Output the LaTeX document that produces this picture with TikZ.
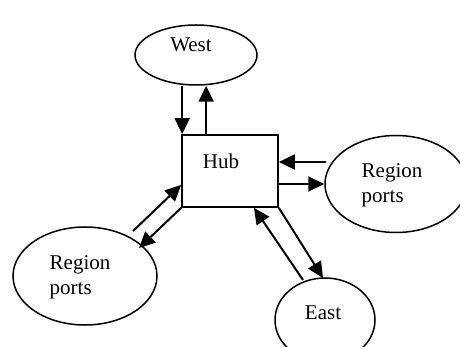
\documentclass[tikz,border=0pt]{standalone}
\usepackage{fontspec}
\setmainfont{Liberation Serif}
\usetikzlibrary{shapes.geometric,arrows.meta,calc}
\begin{document}
\begin{tikzpicture}[x=1pt,y=-1pt,
  oval/.style={draw,ellipse,line width=1.5pt,inner sep=0pt},
  box/.style={draw,rectangle,line width=1.7pt,inner sep=0pt},
  lbl/.style={font=\fontsize{21}{25}\selectfont,align=left,inner sep=0pt},
  conn/.style={line width=2pt,-{Triangle[length=16pt,width=15pt]}}]
\useasboundingbox[fill=white] (0,0) rectangle (460,347);
% nodes
\node[box,minimum width=96pt,minimum height=72pt] (hub) at (230,171) {};
\node[lbl] (hubt) at (221,161) {Hub};
\node[oval,minimum width=122pt,minimum height=60pt] (west) at (196,55) {};
\node[lbl] (westt) at (191,45) {West};
\node[oval,minimum width=142pt,minimum height=97pt] (rp) at (396,184) {};
\node[lbl] (rpt) at (392,185) {Region\\ports};
\node[oval,minimum width=144pt,minimum height=98pt] (lp) at (85,276) {};
\node[lbl] (lpt) at (80,277) {Region\\ports};
\node[oval,minimum width=100pt,minimum height=84pt] (east) at (325,320) {};
\node[lbl] (eastt) at (323,313) {East};
% connector end points
\coordinate (hubtop) at ($(hub.north west)+(25,0)$);
\coordinate (rpstart) at ($(rp.west)+(2,-22)$);
% connectors
\draw[conn] ([xshift=1pt]hub.north west |- west.south) -- ([xshift=1pt]hub.north west);
\draw[conn] (hubtop) -- (hubtop |- west.south);
\draw[conn] (rpstart) -- (rpstart -| hub.east);
\draw[conn] (hub.east |- rp.west) -- (rp.west);
\draw[conn] ($(lp.center)+(48,-45)$) -- ($(hub.west)+(0,14)$);
\draw[conn] (hub.south west) -- ($(lp.center)+(54,-28)$);
\draw[conn] ($(east.center)+(-22,-40)$) -- ($(hub.south)+(24,0)$);
\draw[conn] (hub.south east) -- ($(east.center)+(-2,-42)$);
\end{tikzpicture}
\end{document}
